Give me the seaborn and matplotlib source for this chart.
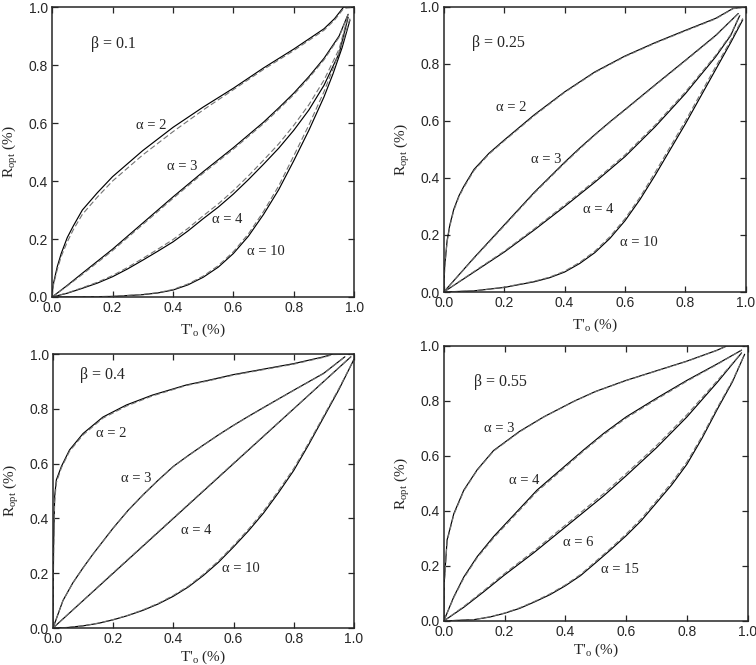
import numpy as np
import pandas as pd
import matplotlib
matplotlib.use("Agg")
import matplotlib.pyplot as plt
import seaborn as sns

sns.set_style("ticks")
plt.rcParams['font.family'] = ['Liberation Sans', 'DejaVu Sans']
plt.rcParams['mathtext.fontset'] = 'custom'
plt.rcParams['mathtext.rm'] = 'Liberation Serif'
plt.rcParams['axes.linewidth'] = 1.1
plt.rcParams['xtick.direction'] = 'in'
plt.rcParams['ytick.direction'] = 'in'
plt.rcParams['xtick.major.size'] = 4
plt.rcParams['ytick.major.size'] = 4
plt.rcParams['xtick.major.width'] = 0.9
plt.rcParams['ytick.major.width'] = 0.9

# ---- beta = 0.1 ----
b01_a2_T = [0, 0.002, 0.005, 0.017, 0.03, 0.05, 0.07, 0.1, 0.15, 0.2, 0.3, 0.4, 0.5, 0.6, 0.7, 0.8, 0.9, 0.935, 0.965, 1.0]
b01_a2_R = [0, 0.03, 0.05, 0.105, 0.15, 0.205, 0.245, 0.30, 0.36, 0.415, 0.505, 0.585, 0.655, 0.72, 0.79, 0.855, 0.925, 0.96, 1.0, 1.0]
b01_a2_Rd = [0, 0.026, 0.045, 0.095, 0.14, 0.19, 0.232, 0.285, 0.345, 0.40, 0.49, 0.57, 0.645, 0.715, 0.785, 0.85, 0.92, 0.955, 0.995, 1.0]
b01_a3_T = [0, 0.05, 0.1, 0.2, 0.3, 0.4, 0.5, 0.6, 0.7, 0.75, 0.8, 0.85, 0.9, 0.95, 0.98]
b01_a3_R = [0, 0.04, 0.082, 0.165, 0.255, 0.345, 0.432, 0.515, 0.603, 0.652, 0.703, 0.76, 0.823, 0.9, 0.975]
b01_a3_Rd = [0, 0.038, 0.078, 0.16, 0.25, 0.34, 0.427, 0.51, 0.598, 0.647, 0.698, 0.755, 0.818, 0.896, 0.975]
b01_a4_T = [0, 0.05, 0.1, 0.15, 0.2, 0.25, 0.3, 0.35, 0.4, 0.45, 0.5, 0.55, 0.6, 0.65, 0.7, 0.75, 0.8, 0.85, 0.9, 0.95, 0.98]
b01_a4_R = [0, 0.013, 0.03, 0.048, 0.07, 0.097, 0.127, 0.158, 0.19, 0.228, 0.27, 0.31, 0.355, 0.405, 0.458, 0.513, 0.575, 0.645, 0.73, 0.84, 0.965]
b01_a4_Rd = [0, 0.014, 0.032, 0.051, 0.074, 0.102, 0.133, 0.165, 0.198, 0.237, 0.28, 0.321, 0.367, 0.418, 0.472, 0.528, 0.592, 0.663, 0.748, 0.855, 0.97]
b01_a10_T = [0, 0.1, 0.2, 0.3, 0.35, 0.4, 0.45, 0.5, 0.55, 0.6, 0.65, 0.7, 0.75, 0.8, 0.85, 0.9, 0.93, 0.96, 0.986]
b01_a10_R = [0, 0.0005, 0.002, 0.008, 0.014, 0.024, 0.042, 0.068, 0.103, 0.15, 0.21, 0.285, 0.37, 0.47, 0.575, 0.69, 0.77, 0.86, 0.955]
b01_a10_Rd = [0, 0.0005, 0.002, 0.009, 0.015, 0.026, 0.045, 0.072, 0.108, 0.156, 0.218, 0.295, 0.383, 0.487, 0.593, 0.708, 0.787, 0.872, 0.96]

# ---- beta = 0.25 ----
b025_a2_T = [0, 0.003, 0.011, 0.02, 0.033, 0.05, 0.066, 0.1, 0.15, 0.2, 0.3, 0.4, 0.5, 0.6, 0.7, 0.8, 0.9, 0.958, 1.0]
b025_a2_R = [0, 0.09, 0.18, 0.235, 0.29, 0.337, 0.37, 0.43, 0.487, 0.533, 0.622, 0.702, 0.772, 0.828, 0.875, 0.918, 0.96, 0.995, 1.0]
b025_a2_Rd = [0, 0.085, 0.175, 0.23, 0.285, 0.333, 0.366, 0.426, 0.484, 0.53, 0.619, 0.7, 0.77, 0.826, 0.873, 0.916, 0.958, 0.994, 1.0]
b025_a3_T = [0, 0.1, 0.2, 0.3, 0.4, 0.45, 0.5, 0.55, 0.6, 0.7, 0.8, 0.9, 0.975]
b025_a3_R = [0, 0.12, 0.235, 0.35, 0.455, 0.505, 0.552, 0.597, 0.64, 0.727, 0.813, 0.9, 0.977]
b025_a3_Rd = [0, 0.118, 0.232, 0.347, 0.452, 0.502, 0.55, 0.595, 0.638, 0.725, 0.811, 0.898, 0.977]
b025_a4_T = [0, 0.1, 0.2, 0.3, 0.4, 0.5, 0.6, 0.7, 0.8, 0.9, 0.95, 0.98]
b025_a4_R = [0, 0.07, 0.14, 0.218, 0.30, 0.385, 0.475, 0.58, 0.696, 0.825, 0.9, 0.97]
b025_a4_Rd = [0, 0.072, 0.143, 0.222, 0.305, 0.39, 0.481, 0.586, 0.702, 0.83, 0.903, 0.972]
b025_a10_T = [0, 0.1, 0.2, 0.3, 0.35, 0.4, 0.45, 0.5, 0.55, 0.6, 0.65, 0.7, 0.75, 0.8, 0.85, 0.9, 0.95, 0.99]
b025_a10_R = [0, 0.004, 0.016, 0.036, 0.05, 0.07, 0.1, 0.138, 0.188, 0.25, 0.325, 0.41, 0.5, 0.59, 0.685, 0.78, 0.875, 0.955]
b025_a10_Rd = [0, 0.004, 0.017, 0.038, 0.052, 0.073, 0.104, 0.143, 0.194, 0.257, 0.333, 0.42, 0.51, 0.60, 0.695, 0.79, 0.882, 0.96]

# ---- beta = 0.4 ----
b04_a2_T = [0, 0.002, 0.0055, 0.011, 0.028, 0.055, 0.1, 0.166, 0.244, 0.33, 0.443, 0.52, 0.6, 0.7, 0.8, 0.9, 0.93, 1.0]
b04_a2_R = [0, 0.30, 0.48, 0.54, 0.59, 0.65, 0.71, 0.77, 0.814, 0.85, 0.887, 0.905, 0.925, 0.945, 0.965, 0.99, 1.0, 1.0]
b04_a2_Rd = [0, 0.28, 0.46, 0.53, 0.585, 0.645, 0.705, 0.766, 0.81, 0.847, 0.885, 0.903, 0.923, 0.943, 0.963, 0.988, 0.998, 1.0]
b04_a3_T = [0, 0.033, 0.066, 0.1, 0.133, 0.2, 0.25, 0.3, 0.35, 0.4, 0.45, 0.5, 0.55, 0.6, 0.65, 0.7, 0.8, 0.9, 0.97]
b04_a3_R = [0, 0.10, 0.165, 0.22, 0.27, 0.365, 0.43, 0.487, 0.54, 0.59, 0.63, 0.668, 0.705, 0.74, 0.773, 0.805, 0.868, 0.93, 0.99]
b04_a3_Rd = [0, 0.10, 0.164, 0.219, 0.269, 0.364, 0.429, 0.486, 0.539, 0.589, 0.629, 0.667, 0.704, 0.739, 0.772, 0.804, 0.867, 0.929, 0.99]
b04_a4_T = [0, 0.2, 0.4, 0.6, 0.8, 0.99]
b04_a4_R = [0, 0.2, 0.4, 0.6, 0.8, 0.99]
b04_a4_Rd = [0, 0.202, 0.402, 0.602, 0.801, 0.99]
b04_a10_T = [0, 0.05, 0.1, 0.15, 0.2, 0.25, 0.3, 0.35, 0.4, 0.45, 0.5, 0.55, 0.6, 0.65, 0.7, 0.75, 0.8, 0.85, 0.9, 0.95, 1.0]
b04_a10_R = [0, 0.002, 0.008, 0.017, 0.03, 0.046, 0.065, 0.088, 0.116, 0.15, 0.192, 0.24, 0.296, 0.355, 0.42, 0.495, 0.575, 0.67, 0.77, 0.87, 0.98]
b04_a10_Rd = [0, 0.002, 0.008, 0.018, 0.031, 0.047, 0.067, 0.09, 0.119, 0.153, 0.196, 0.245, 0.301, 0.361, 0.427, 0.502, 0.582, 0.676, 0.775, 0.874, 0.98]

# ---- beta = 0.55 ----
b055_a3_T = [0, 0.002, 0.011, 0.033, 0.066, 0.11, 0.164, 0.25, 0.33, 0.43, 0.5, 0.6, 0.7, 0.8, 0.9, 0.93, 1.0]
b055_a3_R = [0, 0.15, 0.295, 0.39, 0.476, 0.55, 0.62, 0.69, 0.743, 0.80, 0.835, 0.875, 0.91, 0.945, 0.985, 1.0, 1.0]
b055_a3_Rd = [0, 0.14, 0.29, 0.386, 0.473, 0.548, 0.618, 0.688, 0.742, 0.799, 0.834, 0.874, 0.909, 0.944, 0.984, 0.999, 1.0]
b055_a4_T = [0, 0.033, 0.066, 0.11, 0.164, 0.22, 0.307, 0.395, 0.46, 0.526, 0.6, 0.7, 0.8, 0.9, 0.98]
b055_a4_R = [0, 0.088, 0.16, 0.234, 0.307, 0.373, 0.476, 0.56, 0.622, 0.682, 0.742, 0.81, 0.875, 0.935, 0.985]
b055_a4_Rd = [0, 0.085, 0.156, 0.23, 0.302, 0.368, 0.471, 0.555, 0.618, 0.678, 0.738, 0.806, 0.872, 0.933, 0.985]
b055_a6_T = [0, 0.066, 0.13, 0.197, 0.296, 0.395, 0.526, 0.6, 0.7, 0.8, 0.9, 0.98]
b055_a6_R = [0, 0.05, 0.105, 0.165, 0.248, 0.337, 0.455, 0.528, 0.63, 0.742, 0.868, 0.975]
b055_a6_Rd = [0, 0.053, 0.109, 0.17, 0.254, 0.344, 0.463, 0.536, 0.638, 0.75, 0.874, 0.975]
b055_a15_T = [0, 0.1, 0.15, 0.2, 0.25, 0.3, 0.35, 0.4, 0.45, 0.5, 0.55, 0.6, 0.65, 0.7, 0.75, 0.8, 0.85, 0.9, 0.95, 0.99]
b055_a15_R = [0, 0.005, 0.014, 0.028, 0.046, 0.07, 0.096, 0.128, 0.165, 0.212, 0.26, 0.31, 0.365, 0.43, 0.495, 0.57, 0.665, 0.77, 0.87, 0.97]
b055_a15_Rd = [0, 0.005, 0.015, 0.029, 0.048, 0.072, 0.099, 0.131, 0.169, 0.217, 0.265, 0.316, 0.372, 0.437, 0.503, 0.578, 0.672, 0.776, 0.874, 0.97]

panels = [
    dict(rect=[0.069, 0.5534, 0.3995, 0.436], beta="β = 0.1", beta_xy=(0.13, 0.874),
         curves=[(b01_a2_T, b01_a2_R, b01_a2_Rd), (b01_a3_T, b01_a3_R, b01_a3_Rd),
                 (b01_a4_T, b01_a4_R, b01_a4_Rd), (b01_a10_T, b01_a10_R, b01_a10_Rd)],
         labels=[("2", 0.276, 0.59), ("3", 0.38, 0.45), ("4", 0.53, 0.267), ("10", 0.645, 0.158)]),
    dict(rect=[0.587, 0.5609, 0.3995, 0.4286], beta="β = 0.25", beta_xy=(0.095, 0.874),
         curves=[(b025_a2_T, b025_a2_R, b025_a2_Rd), (b025_a3_T, b025_a3_R, b025_a3_Rd),
                 (b025_a4_T, b025_a4_R, b025_a4_Rd), (b025_a10_T, b025_a10_R, b025_a10_Rd)],
         labels=[("2", 0.174, 0.646), ("3", 0.29, 0.464), ("4", 0.46, 0.289), ("10", 0.585, 0.172)]),
    dict(rect=[0.0701, 0.0556, 0.398, 0.412], beta="β = 0.4", beta_xy=(0.089, 0.922),
         curves=[(b04_a2_T, b04_a2_R, b04_a2_Rd), (b04_a3_T, b04_a3_R, b04_a3_Rd),
                 (b04_a4_T, b04_a4_R, b04_a4_Rd), (b04_a10_T, b04_a10_R, b04_a10_Rd)],
         labels=[("2", 0.144, 0.71), ("3", 0.227, 0.547), ("4", 0.427, 0.357), ("10", 0.563, 0.217)]),
    dict(rect=[0.587, 0.0662, 0.402, 0.4135], beta="β = 0.55", beta_xy=(0.101, 0.869),
         curves=[(b055_a3_T, b055_a3_R, b055_a3_Rd), (b055_a4_T, b055_a4_R, b055_a4_Rd),
                 (b055_a6_T, b055_a6_R, b055_a6_Rd), (b055_a15_T, b055_a15_R, b055_a15_Rd)],
         labels=[("3", 0.132, 0.70), ("4", 0.214, 0.51), ("6", 0.393, 0.284), ("15", 0.518, 0.188)]),
]

fig = plt.figure(figsize=(7.56, 6.65), dpi=100)

for i, p in enumerate(panels):
    ax = fig.add_axes(p['rect'])
    for T, R, Rd in p['curves']:
        sns.lineplot(x=T, y=R, ax=ax, color='black', linewidth=0.85,
                     estimator=None, sort=False)
        sns.lineplot(x=T, y=Rd, ax=ax, color='0.45', linewidth=0.8,
                     estimator=None, sort=False, linestyle=(0, (5, 2.5)))
    ax.set_xlim(0, 1)
    ax.set_ylim(0, 1)
    ax.set_xticks(np.arange(0, 1.01, 0.2))
    ax.set_yticks(np.arange(0, 1.01, 0.2))
    ax.tick_params(top=True, right=True, labelsize=10, pad=3)
    ax.text(p['beta_xy'][0], p['beta_xy'][1], p['beta'], family='Liberation Serif',
            fontsize=11.5, ha='left', va='center')
    for txt, x, y in p['labels']:
        ax.text(x, y, "α = " + txt, family='Liberation Serif',
                fontsize=10.5, ha='left', va='center')
    ax.set_xlabel(r"T$'_{\mathrm{o}}$ (%)", family='Liberation Serif', fontsize=11,
                  labelpad=5 if i < 2 else 2)
    ax.set_ylabel(r"R$_{\mathrm{opt}}$ (%)", family='Liberation Serif', fontsize=11, labelpad=6)

fig.savefig("out.png", dpi=100)
